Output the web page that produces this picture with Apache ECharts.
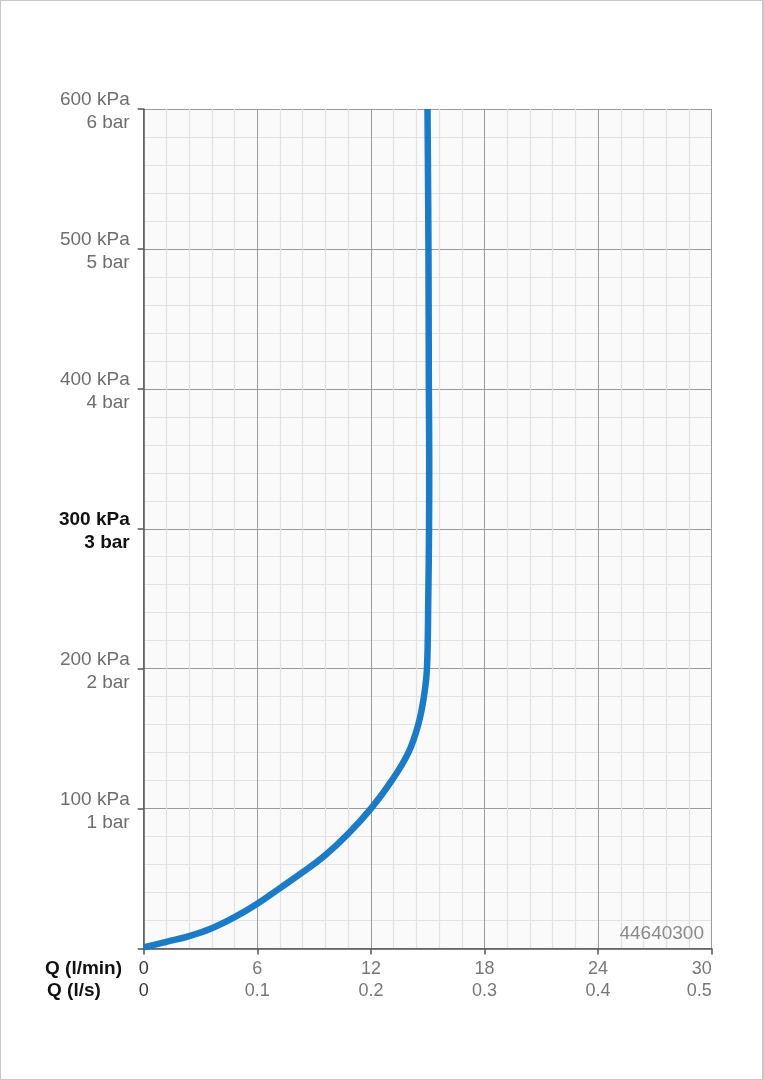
<!DOCTYPE html>
<html>
<head>
<meta charset="utf-8">
<script src="https://cdn.jsdelivr.net/npm/echarts@6/dist/echarts.min.js"></script>
<style>
html,body{margin:0;padding:0;background:#fff;}
#wrap{width:764px;height:1080px;box-sizing:border-box;border:1px solid #c8c8c8;border-right-width:2px;position:relative;}
#chart{position:absolute;left:-1px;top:-1px;width:764px;height:1080px;}
</style>
</head>
<body>
<div id="wrap"><div id="chart"></div></div>
<script>
// Flow (l/min) vs pressure (kPa)
var flowLmin = [0, 1.2, 2.4, 3.6, 4.8, 6.0, 7.2, 8.4, 9.6, 10.8, 12.0, 13.1, 13.98, 14.5, 14.8, 14.96, 15.03, 15.07, 15.08, 15.06, 15.04, 14.99];
var pressureKpa = [0.8, 4.8, 8.9, 14.5, 22.4, 32.0, 43.2, 54.5, 66.8, 82, 100, 120, 140, 160, 180, 200, 250, 300, 350, 400, 500, 600];

var xTicksLmin = ['0', '6', '12', '18', '24', '30'];
var xTicksLs = ['0', '0.1', '0.2', '0.3', '0.4', '0.5'];
var yTicksKpa = ['', '100 kPa', '200 kPa', '300 kPa', '400 kPa', '500 kPa', '600 kPa'];
var yTicksBar = ['', '1 bar', '2 bar', '3 bar', '4 bar', '5 bar', '6 bar'];
var boldYIndex = 3;
var xTitle1 = 'Q (l/min)';
var xTitle2 = 'Q (l/s)';
var codeLabel = '44640300';

var seriesData = flowLmin.map(function (x, i) { return [x, pressureKpa[i]]; });

var chart = echarts.init(document.getElementById('chart'), null, {renderer: 'canvas'});
var FONT = '"Liberation Sans", Arial, Helvetica, sans-serif';

chart.setOption({
  backgroundColor: 'transparent',
  animation: false,
  grid: {
    left: 143.7, right: 52.3, top: 109, bottom: 131.5,
    show: true, backgroundColor: '#fafafa', borderWidth: 0
  },
  xAxis: {
    type: 'value', min: 0, max: 30, interval: 6,
    axisLine: {show: true, onZero: false, lineStyle: {color: '#555', width: 1.5}},
    axisTick: {show: true, length: 6, lineStyle: {color: '#555', width: 1.5}},
    minorTick: {show: false, splitNumber: 5},
    splitLine: {show: true, lineStyle: {color: '#9a9a9a', width: 1}},
    minorSplitLine: {show: true, lineStyle: {color: '#e2e2e2', width: 1.2}},
    axisLabel: {
      margin: 10,
      fontFamily: FONT,
      alignMaxLabel: 'right',
      formatter: function (v) {
        var i = Math.round(v / 6);
        var s = i === 0 ? 'd' : 'g';
        return '{' + s + '|' + xTicksLmin[i] + '}\n{' + s + '|' + xTicksLs[i] + '}';
      },
      rich: {
        d: {fontSize: 18, lineHeight: 22, color: '#333', fontFamily: FONT},
        g: {fontSize: 18, lineHeight: 22, color: '#777', fontFamily: FONT}
      }
    }
  },
  yAxis: {
    type: 'value', min: 0, max: 600, interval: 100,
    axisLine: {show: true, onZero: false, lineStyle: {color: '#555', width: 1.5}},
    axisTick: {show: true, length: 6, lineStyle: {color: '#555', width: 1.5}},
    minorTick: {show: false, splitNumber: 5},
    splitLine: {show: true, lineStyle: {color: '#9a9a9a', width: 1}},
    minorSplitLine: {show: true, lineStyle: {color: '#e2e2e2', width: 1.2}},
    axisLabel: {
      margin: 14,
      padding: [5, 0, 0, 0],
      fontFamily: FONT,
      formatter: function (v) {
        var i = Math.round(v / 100);
        if (!yTicksKpa[i]) return '';
        var s = i === boldYIndex ? 'b' : 'n';
        return '{' + s + '|' + yTicksKpa[i] + '}\n{' + s + '|' + yTicksBar[i] + '}';
      },
      rich: {
        n: {fontSize: 19, lineHeight: 23, color: '#6e6e6e', fontFamily: FONT, align: 'right'},
        b: {fontSize: 19, lineHeight: 23, color: '#111', fontWeight: 'bold', fontFamily: FONT, align: 'right'}
      }
    }
  },
  graphic: [
    {type: 'text', left: 45, top: 959, style: {text: xTitle1, font: 'bold 19px ' + FONT, fill: '#111'}},
    {type: 'text', left: 47, top: 981, style: {text: xTitle2, font: 'bold 19px ' + FONT, fill: '#111'}},
    {type: 'text', right: 764 - 704, top: 924, z: 10, style: {text: codeLabel, font: '19px ' + FONT, fill: '#8a8a8a'}}
  ],
  series: [{
    type: 'line',
    data: seriesData,
    smooth: 0.4,
    showSymbol: false,
    symbol: 'none',
    clip: true,
    lineStyle: {color: '#1b7bc7', width: 6.5, cap: 'butt', join: 'round'},
    z: 5
  }]
});
</script>
</body>
</html>
